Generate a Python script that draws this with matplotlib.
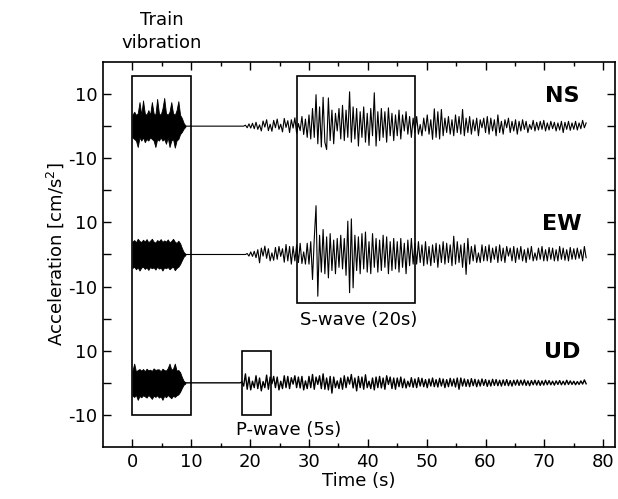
import numpy as np
import matplotlib
matplotlib.use("Agg")
import matplotlib.pyplot as plt
from matplotlib.patches import Rectangle
from matplotlib.ticker import FixedLocator, FixedFormatter

plt.rcParams["font.family"] = "DejaVu Sans"
plt.rcParams["mathtext.default"] = "regular"

# sample spacing (s) of the digitised records
DT = 0.3
TRAIN_END = 9.0     # end of the train vibration burst
WAVE_START = 18.0   # start of the earthquake record

# vertical offset of each component on the shared axis
components = ["NS", "EW", "UD"]
offsets = [80, 40, 0]

# train vibration burst, upper / lower edges (cm/s2), 0 .. 9 s
ns_train_top = [3.5, 4.5, 3.5, 4.0, 7.5, 3.5, 8.0, 4.0, 3.5, 5.0, 3.5, 7.5, 4.0, 3.5, 8.5, 4.0,
                3.5, 5.5, 8.8, 4.0, 3.5, 4.5, 7.5, 4.0, 3.5, 5.0, 7.8, 3.5, 2.5, 1.0, 0.2]
ns_train_bot = [-3.5, -4.0, -4.5, -6.5, -3.5, -4.5, -3.5, -5.0, -4.0, -4.5, -3.5, -4.0, -4.5, -6.5, -4.0, -4.5,
                -3.5, -4.5, -4.0, -5.5, -3.5, -6.5, -4.5, -4.0, -6.7, -4.5, -4.0, -2.5, -1.8, -0.8, -0.2]
ew_train_top = [4.0, 4.5, 3.8, 4.9, 4.2, 3.9, 4.6, 4.0, 4.8, 3.8, 4.3, 4.9, 4.0, 3.7, 4.5, 4.1,
                4.8, 3.9, 4.4, 4.0, 4.7, 3.8, 4.2, 4.9, 4.0, 3.6, 4.3, 3.5, 2.0, 0.8, 0.2]
ew_train_bot = [-4.2, -3.8, -4.6, -4.0, -5.0, -4.1, -3.8, -4.5, -4.0, -4.8, -3.9, -4.3, -4.0, -4.7, -3.8, -4.4,
                -4.1, -5.0, -4.0, -4.3, -3.9, -4.6, -4.1, -3.8, -4.9, -4.2, -3.8, -3.0, -1.8, -0.7, -0.2]
ud_train_top = [3.8, 6.0, 3.5, 4.0, 4.3, 3.8, 4.3, 3.6, 4.4, 3.9, 4.1, 3.7, 4.5, 4.0, 4.2, 4.2,
                3.6, 4.4, 4.0, 3.8, 4.6, 6.0, 4.1, 4.4, 6.0, 3.8, 4.0, 3.3, 1.8, 0.6, 0.2]
ud_train_bot = [-4.0, -4.4, -3.8, -5.3, -4.1, -4.5, -3.9, -4.2, -4.6, -3.8, -4.3, -5.0, -4.0, -4.4, -3.9, -4.6,
                -4.2, -5.3, -4.0, -4.5, -3.8, -4.3, -4.8, -4.0, -4.4, -3.9, -3.6, -2.8, -1.6, -0.6, -0.2]

# earthquake record (cm/s2), every 0.3 s from 18 s
ns_wave = [
    0, 0, 0, 0, 0.3, -0.5, 0.7, -0.6, 0.9, -0.8,
    1.2, -1.0, 0.4, -1.5, 1.6, -0.3, 2.0, -1.4, 0.6, -1.6,
    1.8, -0.5, 2.2, -1.0, 0.6, -1.8, 2.4, -0.4, 1.7, -2.0,
    2.0, -0.6, 2.6, -2.2, 0.8, -1.4, 3.0, -2.6, 2.2, -3.5,
    3.5, -4.0, 5.5, -3.5, 9.8, -5.5, 6.0, -6.5, 9.0, -5.0,
    -7.3, 8.8, -4.5, 5.0, -5.5, 4.0, -1.5, 5.5, -4.0, 6.5,
    -4.5, 5.0, -3.5, 10.7, -5.0, 6.0, -4.0, 5.5, -6.2, 4.5,
    -3.5, 6.0, -5.0, 4.0, -6.0, 5.5, -3.0, 10.4, -6.2, 4.5,
    -4.5, 5.5, -3.5, 4.5, -5.0, 5.7, -3.0, 4.0, -4.5, 3.5,
    -3.0, 5.0, -4.0, 3.5, -1.5, 4.5, -2.5, 3.0, -3.5, 2.5,
    -2.0, 3.0, -2.5, 0.5, -3.0, 2.5, -1.5, 3.5, -2.5, 2.0,
    -4.1, 5.4, -3.5, 4.5, -4.0, 5.2, -3.0, 2.5, -2.0, 3.0,
    -2.5, 2.0, -3.0, 3.5, -2.0, 3.0, -2.5, 5.2, -3.0, 2.5,
    -2.0, 3.0, -2.5, 2.0, -1.5, 2.5, -3.0, 2.0, -0.5, 2.5,
    -2.0, 3.0, -2.5, 2.5, -1.5, 2.0, -3.0, 3.5, -2.0, 1.5,
    -2.5, 2.0, -0.5, 2.5, -2.0, 1.5, -1.5, 2.0, -2.5, 1.5,
    -1.5, 2.0, -1.0, 1.5, -2.0, 0.5, -1.0, 1.8, -1.5, 1.2,
    -1.2, 1.5, -1.0, 1.8, -1.5, 1.0, -1.2, 1.5, -0.8, 1.2,
    -1.5, 1.0, -1.2, 1.5, -2.0, 1.2, -1.0, 1.5, -1.3, 1.0,
    -1.0, 1.5, -1.2, 1.0, -0.8, 1.8, -0.5, 1.0,
]
ew_wave = [
    0, 0, 0, 0, 0, 0.3, -0.5, 0.8, -0.6, 1.0,
    -1.0, 1.5, -2.6, 2.0, -0.5, 2.6, -1.2, 1.8, -2.0, 0.5,
    -1.8, 2.2, -1.5, 2.5, -0.6, 1.8, -2.4, 3.1, -2.0, 2.5,
    -3.0, 2.5, -2.0, 3.0, -2.5, 3.5, -2.8, 0.8, -3.0, 3.5,
    -3.0, 4.0, -7.8, 5.0, 15.2, -13.0, 6.0, -5.5, 7.8, -6.0,
    5.5, -7.3, 6.5, -5.0, 4.5, -6.0, 5.0, -4.0, 6.0, -4.5,
    5.0, -6.5, 10.4, -11.9, 11.1, -10.4, 6.0, -5.0, 5.5, -6.0,
    6.5, -4.5, 7.0, -5.5, 4.0, -6.0, 6.5, -4.0, 5.0, -5.5,
    4.5, -5.0, 6.0, -4.0, 5.5, -6.0, 4.0, -5.0, 5.0, -4.5,
    4.0, -5.5, 5.0, -4.0, 3.5, -6.0, 4.5, -3.5, 5.0, -3.0,
    3.5, -3.0, 4.0, -2.5, 3.0, -3.5, 4.0, -3.0, 2.5, -3.5,
    3.0, -2.5, 3.5, -4.0, 3.0, -2.5, 4.0, -3.0, 3.5, -2.5,
    3.0, -3.5, 5.7, -3.0, 4.0, -2.5, 3.0, -4.0, 3.5, -6.2,
    5.0, -3.0, 2.5, -2.0, 3.0, -2.5, 0.5, -2.5, 3.0, -2.0,
    2.5, -2.0, 3.0, -2.5, 2.0, -1.5, 2.5, -2.5, 3.0, -2.0,
    2.0, -2.5, 2.5, -0.5, 2.0, -2.0, 2.5, -2.5, 2.0, -1.5,
    2.5, -2.0, 1.5, -2.5, 2.0, -1.5, 2.5, -2.0, 0.5, -1.8,
    2.0, -1.5, 2.5, -2.0, 1.5, -2.0, 2.2, -1.5, 2.0, -2.0,
    1.5, -2.0, 2.5, -1.5, 2.0, -1.8, 1.5, -2.0, 2.2, -1.5,
    1.8, -1.5, 2.0, -1.2, 1.5, -2.0, 2.5, -1.0,
]
ud_wave = [
    0, 0, 0.3, -1.0, 2.8, -2.0, 1.8, -2.2, 0.5, -1.5,
    2.2, -1.8, 1.5, -2.5, 0.4, -1.5, 2.4, -2.0, 1.8, -0.3,
    2.0, -1.5, 1.8, -2.2, 0.5, -1.8, 2.2, -1.5, 2.0, -1.8,
    1.6, -0.4, 2.2, -1.5, 1.8, -1.6, 2.0, -2.2, 0.6, -1.8,
    2.0, -1.5, 2.6, -2.0, 1.8, -0.5, 2.2, -1.8, 2.8, -2.0,
    1.5, -2.2, 2.0, -3.2, 1.8, -1.5, 0.6, -1.8, 1.5, -2.0,
    2.2, -1.5, 1.8, -0.4, 2.6, -1.6, 1.5, -2.5, 2.0, -1.5,
    1.8, -2.0, 2.5, -1.5, 0.5, -1.8, 1.5, -2.2, 1.8, -1.5,
    2.0, -1.6, 1.5, -2.0, 2.2, -0.5, 1.8, -1.8, 1.5, -2.0,
    1.5, -1.2, 1.8, -1.5, 1.2, -1.6, 0.5, -1.2, 1.6, -1.4,
    1.2, -1.5, 1.6, -1.0, 1.4, -1.2, 1.0, -1.5, 1.2, -1.0,
    1.5, -1.2, 1.0, -1.3, 1.4, -1.0, 1.2, -1.5, 1.0, -1.2,
    1.4, -1.0, 1.2, -1.3, 1.5, -2.0, 1.5, -1.0, 1.2, -1.1,
    1.0, -1.2, 1.3, -0.9, 1.1, -1.2, 0.9, -1.0, 1.2, -0.8,
    1.0, -1.1, 0.8, -1.0, 1.1, -0.8, 1.0, -0.9, 0.8, -1.0,
    0.9, -0.8, 1.0, -0.9, 0.7, -1.0, 0.8, -0.7, 0.9, -0.8,
    0.8, -0.7, 0.9, -0.8, 0.6, -0.9, 0.7, -0.6, 0.8, -0.7,
    0.7, -0.8, 0.6, -0.7, 0.8, -0.6, 0.7, -0.6, 0.5, -0.7,
    0.6, -0.5, 0.7, -0.6, 0.5, -0.6, 0.8, -0.5, 0.6, -0.5,
    0.5, -0.6, 0.4, -0.5, 0.6, -0.4, 0.9, -0.3,
]

train_top = [ns_train_top, ew_train_top, ud_train_top]
train_bot = [ns_train_bot, ew_train_bot, ud_train_bot]
waves = [ns_wave, ew_wave, ud_wave]
line_widths = [0.8, 0.8, 1.0]

# highlighted windows: (t0, t1, y0, y1) on the stacked axis
train_box = (0, 10, -10, 95.5)
s_box = (28, 48, 25, 95.5)
p_box = (18.6, 23.6, -10, 10)


def draw_trace(ax, offset, top, bot, wave, lw):
    t_train = np.arange(len(top)) * DT
    ax.fill_between(t_train, offset + np.array(top), offset + np.array(bot),
                    color="black", lw=0.6, edgecolor="black")
    t_wave = WAVE_START + np.arange(len(wave)) * DT
    t = np.concatenate([[TRAIN_END], t_wave])
    y = offset + np.concatenate([[0.0], wave])
    ax.plot(t, y, color="black", lw=lw)


def draw_box(ax, box):
    t0, t1, y0, y1 = box
    ax.add_patch(Rectangle((t0, y0), t1 - t0, y1 - y0, fill=False,
                           edgecolor="black", lw=1.2, clip_on=False))


fig = plt.figure(figsize=(6.18, 4.99), dpi=100)
ax = fig.add_axes([0.1667, 0.1042, 0.8284, 0.7716])

for name, off, top, bot, wave, lw in zip(components, offsets, train_top, train_bot, waves, line_widths):
    draw_trace(ax, off, top, bot, wave, lw)
    ax.text(73, off + 9.5, name, fontsize=16, fontweight="bold", ha="center", va="center")

for box in [train_box, s_box, p_box]:
    draw_box(ax, box)

ax.text(5, 109.5, "Train\nvibration", fontsize=13, ha="center", va="center",
        linespacing=1.35, clip_on=False)
ax.text(38.4, 19.6, "S-wave (20s)", fontsize=13, ha="center", va="center")
ax.text(26.6, -14.6, "P-wave (5s)", fontsize=13, ha="center", va="center")

ax.set_xlim(-5, 82)
ax.set_ylim(-20, 100)
ax.set_xticks(np.arange(0, 81, 10))
ax.set_xticks(np.arange(5, 81, 10), minor=True)
ax.yaxis.set_major_locator(FixedLocator([-10, 10, 30, 50, 70, 90]))
ax.yaxis.set_major_formatter(FixedFormatter(["-10", "10", "-10", "10", "-10", "10"]))
ax.yaxis.set_minor_locator(FixedLocator([0, 20, 40, 60, 80]))

ax.tick_params(which="both", direction="in", top=True, right=True, width=1.0, labelsize=13, pad=4)
ax.tick_params(axis="x", which="major", length=6)
ax.tick_params(axis="x", which="minor", length=3)
ax.tick_params(axis="y", which="both", length=6)
for sp in ax.spines.values():
    sp.set_linewidth(1.2)

ax.set_xlabel("Time (s)", fontsize=13, labelpad=1)
ax.set_ylabel("Acceleration [cm/s$^2$]", fontsize=13, labelpad=2)

fig.savefig("out.png", dpi=100)
